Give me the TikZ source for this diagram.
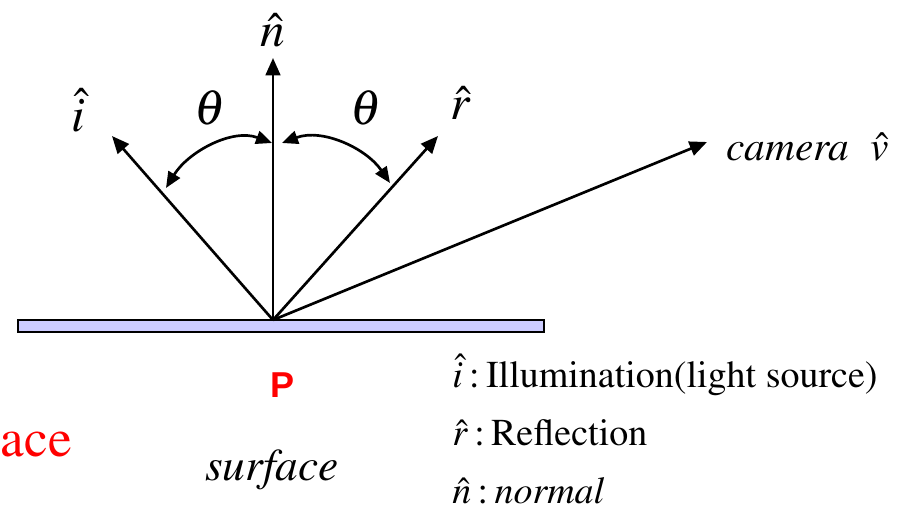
\documentclass[tikz,border=0pt]{standalone}
\usepackage{mathptmx}
\usepackage[no-math]{fontspec}
\newfontfamily\arialf{Liberation Sans}
\newcommand\tnr{\fontencoding{OT1}\fontfamily{ptm}\selectfont}
\usetikzlibrary{arrows.meta}
\definecolor{surf}{RGB}{204,204,255}
\tikzset{
  vec/.style={line width=2pt,-{Triangle[length=13pt,width=11pt]}},
  ang/.style={line width=2pt,{Triangle[length=12pt,width=10pt]}-{Triangle[length=12pt,width=10pt]}},
  big/.style={inner sep=0pt,font=\tnr\fontsize{37}{40}\selectfont},
  leg/.style={inner sep=0pt,anchor=base west,font=\tnr\fontsize{28.5}{32}\selectfont}
}
\begin{document}
\begin{tikzpicture}[x=0.75pt,y=-0.75pt]
\useasboundingbox (0,0) rectangle (914,510);
\node[draw=black,line width=1.6pt,fill=surf,minimum width=394.5pt,minimum height=9pt,inner sep=0pt,anchor=north west] (surface) at (17,319) {};
\coordinate (o) at (273,320);
\coordinate (ntip) at (273,58);
\coordinate (itip) at (112,136);
\coordinate (rtip) at (438,136);
\coordinate (vtip) at (707,142);
\draw[vec] (o) -- (ntip);
\draw[vec] (o) -- (itip);
\draw[vec] (o) -- (rtip);
\draw[vec] (o) -- (vtip);
\coordinate (a1) at (166,188);
\coordinate (a2) at (272,143);
\coordinate (b1) at (282,143);
\coordinate (b2) at (390,183);
\draw[ang] (a1) .. controls (188,152) and (232,128) .. (a2);
\draw[ang] (b1) .. controls (322,128) and (366,148) .. (b2);
\node[big] (nlab) at (273,30) {$\hat{n}$};
\node[big] (ilab) at (78,110) {$\hat{i}$};
\node[big] (rlab) at (461,103) {$\hat{r}$};
\node[big] (th1) at (210,108) {$\theta$};
\node[big] (th2) at (366,108) {$\theta$};
\node[inner sep=0pt,anchor=base west,font=\tnr\fontsize{31}{34}\selectfont] (cam) at (726,160) {\textit{camera}\enspace$\hat{v}$};
\node[inner sep=0pt,anchor=base,text=red,font=\arialf\bfseries\fontsize{27}{30}\selectfont] (P) at (283,397) {P};
\node[inner sep=0pt,anchor=base east,text=red,font=\tnr\fontsize{40}{44}\selectfont] (ace) at (72,456) {ace};
\node[inner sep=0pt,anchor=base,font=\tnr\fontsize{34}{38}\selectfont\itshape] (surflab) at (272,480) {surface};
\node[leg] (l1) at (452,387) {$\hat{i}$\,:\,Illumination(light source)};
\node[leg] (l2) at (452,445) {$\hat{r}$\,:\,Reflection};
\node[leg] (l3) at (452,503) {$\hat{n}$\,:\,\textit{normal}};
\end{tikzpicture}
\end{document}
